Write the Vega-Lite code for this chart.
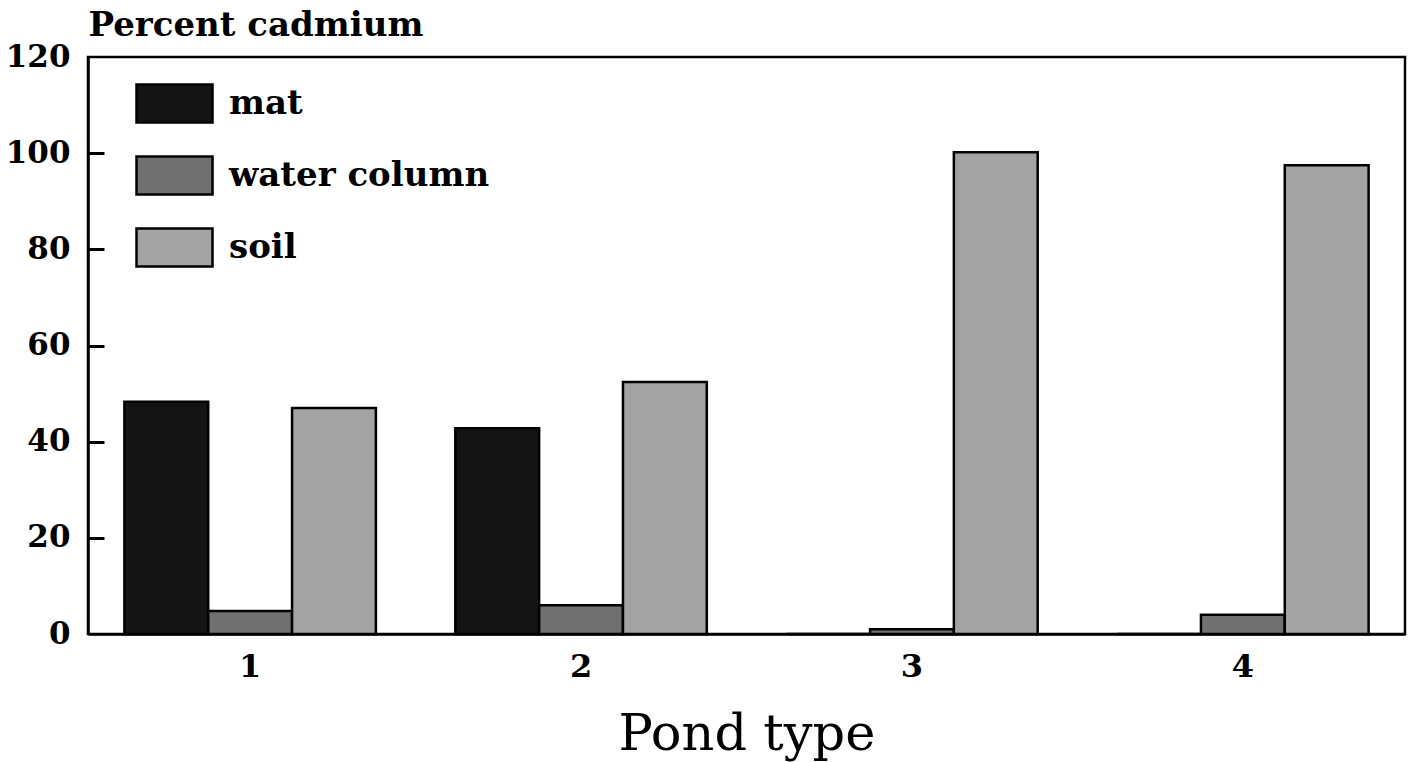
{
  "$schema": "https://vega.github.io/schema/vega-lite/v6.json",
  "width": 1317,
  "height": 577,
  "autosize": {"type": "none"},
  "padding": {"left": 88, "top": 57, "right": 16, "bottom": 128},
  "background": "white",
  "data": {
    "values": [
      {"pond": "1", "medium": "mat", "percent": 48.3},
      {"pond": "1", "medium": "water column", "percent": 4.8},
      {"pond": "1", "medium": "soil", "percent": 47},
      {"pond": "2", "medium": "mat", "percent": 42.8},
      {"pond": "2", "medium": "water column", "percent": 6},
      {"pond": "2", "medium": "soil", "percent": 52.4},
      {"pond": "3", "medium": "mat", "percent": 0},
      {"pond": "3", "medium": "water column", "percent": 1},
      {"pond": "3", "medium": "soil", "percent": 100.2},
      {"pond": "4", "medium": "mat", "percent": 0},
      {"pond": "4", "medium": "water column", "percent": 4},
      {"pond": "4", "medium": "soil", "percent": 97.5}
    ]
  },
  "encoding": {
    "x": {
      "field": "pond",
      "type": "nominal",
      "scale": {"paddingInner": 0.24, "paddingOuter": 0.11},
      "axis": {
        "labelAngle": 0,
        "labelFont": "DejaVu Serif",
        "labelFontWeight": "bold",
        "labelFontSize": 32,
        "labelColor": "black",
        "labelPadding": 17,
        "ticks": false,
        "domainColor": "black",
        "domainWidth": 2.5,
        "title": "Pond type",
        "titleFont": "DejaVu Serif",
        "titleFontWeight": "normal",
        "titleFontSize": 51,
        "titleColor": "black",
        "titlePadding": 27
      }
    },
    "xOffset": {
      "field": "medium",
      "type": "nominal",
      "scale": {"domain": ["mat", "water column", "soil"]}
    }
  },
  "layer": [
    {
      "mark": {"type": "bar", "stroke": "black", "strokeWidth": 2.5},
      "encoding": {
        "y": {
          "field": "percent",
          "type": "quantitative",
          "scale": {"domain": [0, 120], "nice": false},
          "axis": {
            "orient": "left",
            "values": [0, 20, 40, 60, 80, 100, 120],
            "grid": false,
            "ticks": false,
            "domainColor": "black",
            "domainWidth": 2.5,
            "labelFont": "DejaVu Serif",
            "labelFontWeight": "bold",
            "labelFontSize": 31,
            "labelColor": "black",
            "labelPadding": 18,
            "title": "Percent cadmium",
            "titleAngle": 0,
            "titleAlign": "left",
            "titleBaseline": "alphabetic",
            "titleX": 0,
            "titleY": -22,
            "titleFont": "DejaVu Serif",
            "titleFontWeight": "bold",
            "titleFontSize": 34,
            "titleColor": "black"
          }
        },
        "color": {
          "field": "medium",
          "type": "nominal",
          "scale": {
            "domain": ["mat", "water column", "soil"],
            "range": ["#141414", "#707070", "#a3a3a3"]
          },
          "legend": {
            "title": null,
            "orient": "none",
            "legendX": 47,
            "legendY": 7,
            "symbolType": "M-1,-0.5H1V0.5H-1Z",
            "symbolSize": 5776,
            "symbolStrokeColor": "black",
            "symbolStrokeWidth": 2.5,
            "symbolOpacity": 1,
            "labelFont": "DejaVu Serif",
            "labelFontWeight": "bold",
            "labelFontSize": 34,
            "labelColor": "black",
            "labelOffset": 15,
            "labelLimit": 0,
            "rowPadding": 8,
            "padding": 0
          }
        }
      }
    },
    {
      "mark": {"type": "bar", "opacity": 0},
      "encoding": {
        "y": {
          "field": "percent",
          "type": "quantitative",
          "axis": {
            "orient": "right",
            "offset": -1317,
            "values": [20, 40, 60, 80, 100],
            "grid": false,
            "ticks": true,
            "labels": false,
            "domain": false,
            "title": null,
            "tickSize": 16,
            "tickWidth": 3,
            "tickColor": "black"
          }
        }
      }
    }
  ],
  "resolve": {"axis": {"y": "independent"}},
  "config": {
    "view": {"stroke": "black", "strokeWidth": 2.5}
  }
}
